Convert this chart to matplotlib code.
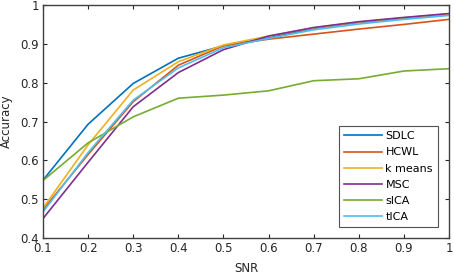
import matplotlib
matplotlib.use("Agg")
import matplotlib.pyplot as plt

snr = [0.1, 0.2, 0.3, 0.4, 0.5, 0.6, 0.7, 0.8, 0.9, 1.0]
sdlc = [0.549, 0.693, 0.798, 0.863, 0.895, 0.915, 0.940, 0.955, 0.966, 0.976]
hcwl = [0.473, 0.615, 0.751, 0.845, 0.895, 0.912, 0.925, 0.938, 0.950, 0.963]
kmeans = [0.477, 0.640, 0.781, 0.854, 0.897, 0.920, 0.941, 0.956, 0.967, 0.977]
msc = [0.450, 0.595, 0.738, 0.826, 0.885, 0.920, 0.942, 0.957, 0.968, 0.978]
sica = [0.548, 0.645, 0.712, 0.760, 0.768, 0.779, 0.805, 0.810, 0.830, 0.836]
tica = [0.467, 0.620, 0.755, 0.838, 0.890, 0.914, 0.936, 0.951, 0.963, 0.973]

names = ["SDLC", "HCWL", "k means", "MSC", "sICA", "tICA"]
series = [sdlc, hcwl, kmeans, msc, sica, tica]
colors = ["#0072BD", "#D95319", "#EDB120", "#7E2F8E", "#77AC30", "#4DBEEE"]

plt.rcParams['font.family'] = ['DejaVu Sans']
fig = plt.figure(figsize=(4.54, 2.77), dpi=100)
ax = fig.add_axes([43/454, 1-238/277, 406/454, 233/277])
for name, ys, c in zip(names, series, colors):
    ax.plot(snr, ys, color=c, lw=1.2, label=name)

ax.set_xlim(0.1, 1.0)
ax.set_ylim(0.4, 1.0)
ax.set_xticks(snr)
ax.set_xticklabels(["0.1", "0.2", "0.3", "0.4", "0.5", "0.6", "0.7", "0.8", "0.9", "1"])
ax.set_yticks([0.4, 0.5, 0.6, 0.7, 0.8, 0.9, 1.0])
ax.set_yticklabels(["0.4", "0.5", "0.6", "0.7", "0.8", "0.9", "1"])
ax.tick_params(direction='in', top=True, right=True, labelsize=8.5, length=3,
               color='#262626', labelcolor='#262626', pad=3)
for s in ax.spines.values():
    s.set_color('#404040')
    s.set_linewidth(1.0)
ax.set_xlabel("SNR", fontsize=8.5, color='#262626', labelpad=5)
ax.set_ylabel("Accuracy", fontsize=8.5, color='#262626', labelpad=5)

leg = ax.legend(loc='lower right', fontsize=8, frameon=True, fancybox=False,
                edgecolor='#262626', handlelength=3.4, labelspacing=0.55,
                borderaxespad=1.0, handletextpad=0.3, borderpad=0.45)
leg.get_frame().set_linewidth(0.8)

fig.savefig("out.png", dpi=100)
